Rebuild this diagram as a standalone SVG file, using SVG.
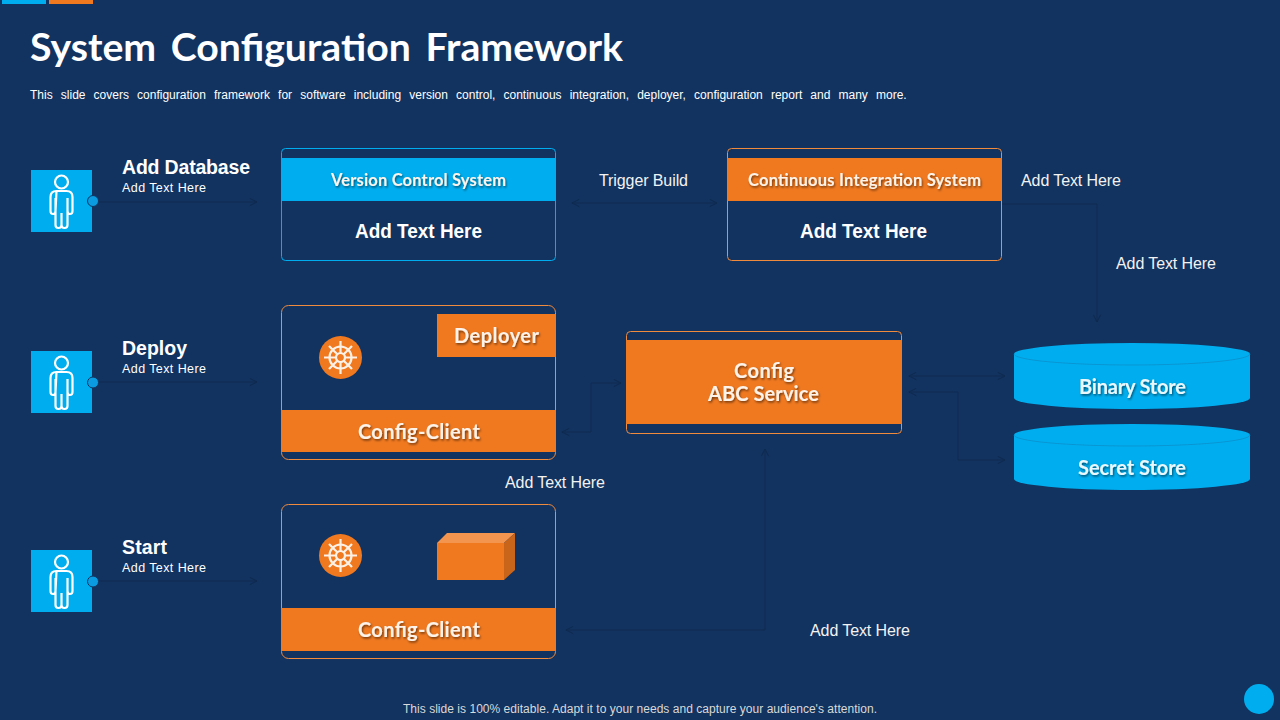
<svg xmlns="http://www.w3.org/2000/svg" width="1280" height="720" viewBox="0 0 1280 720">
<style>
text{font-family:"Liberation Sans",Arial,sans-serif;fill:#fff}
.g{font-family:Lato,"Liberation Sans",sans-serif;font-weight:700;text-anchor:middle;filter:url(#sh);fill:#fdf3ea}
.box{fill:#12335f;stroke-width:1}
.o{stroke:#f08a3c}.b{stroke:#00aeef}
.of{fill:#f07920}.bf{fill:#00aeef}
.lab{font-size:16px;fill:#f2f2f2}
.h{font-size:19.500px;font-weight:700}
.s{font-size:12.500px}
.m{font-size:20px;font-weight:700;text-anchor:middle}
.ic{fill:none;stroke:#fff;stroke-width:2.2}
.c{fill:none;stroke:#0e2a50;stroke-width:1}
.w{fill:none;stroke:#fdf0e4;stroke-width:2.2}
.rim{fill:none;stroke:#0b8fcc;stroke-width:0.800}
</style>
<defs>
<filter id="sh" x="-10%" y="-20%" width="120%" height="150%"><feDropShadow dx="1" dy="1.5" stdDeviation="0.8" flood-color="#000" flood-opacity="0.55"/></filter>
<marker id="a" viewBox="0 0 10 10" refX="9" refY="5" markerWidth="9" markerHeight="9" markerUnits="userSpaceOnUse" orient="auto-start-reverse"><path d="M1 1L9 5L1 9" fill="none" stroke="#0e2a50" stroke-width="1.1"/></marker>
<g id="person"><circle cx="0" cy="-19" r="6.500" class="ic"/><path class="ic" d="M-5-10H5Q11-10 11-4V10Q11 13 8.500 13Q6 13 6 10V-3M6 10V24Q6 27 3 27Q0 27 0 24V12V24Q0 27-3 27Q-6 27-6 24V-3M-6 10Q-6 13-8.500 13Q-11 13-11 10V-4Q-11-10-5-10Z"/></g>
<g id="wheel"><circle r="21.500" class="of"/><circle r="11" class="w"/><circle r="4.500" class="w"/><path class="w" d="M0-16.500V-4.500M0 4.500V16.500M-16.500 0H-4.500M4.500 0H16.500M-11.500-11.500L-3.200-3.200M3.200 3.200L11.500 11.500M-11.500 11.500L-3.200 3.200M3.200-3.200L11.500-11.500"/></g>
</defs>
<rect width="1280" height="720" fill="#12335f"/>
<rect x="2" y="0" width="44" height="4" class="bf"/><rect x="49" y="0" width="44" height="4" class="of"/>
<text x="30" y="61" font-size="38" font-weight="700" textLength="593" lengthAdjust="spacingAndGlyphs" word-spacing="5" style="font-family:Lato,'Liberation Sans',sans-serif">System Configuration Framework</text>
<text x="30" y="99" font-size="12" word-spacing="4.800">This slide covers configuration framework for software including version control, continuous integration, deployer, configuration report and many more.</text>

<g id="connectors">
<path class="c" d="M99 202H257" marker-end="url(#a)"/>
<path class="c" d="M99 382H257" marker-end="url(#a)"/>
<path class="c" d="M99 581H257" marker-end="url(#a)"/>
<path class="c" d="M572 203H717" marker-start="url(#a)" marker-end="url(#a)"/>
<path class="c" d="M1002 204H1097V322" marker-end="url(#a)"/>
<path class="c" d="M496 358V399" marker-end="url(#a)"/>
<path class="c" d="M476 580V604" marker-end="url(#a)"/>
<path class="c" d="M562 432H591V383H621" marker-start="url(#a)" marker-end="url(#a)"/>
<path class="c" d="M566 630H765V449" marker-start="url(#a)" marker-end="url(#a)"/>
<path class="c" d="M909 376H1005" marker-start="url(#a)" marker-end="url(#a)"/>
<path class="c" d="M909 392H958V460H1005" marker-start="url(#a)" marker-end="url(#a)"/>
</g>

<g id="actor-database"><rect x="31" y="170" width="61" height="62" class="bf"/><use href="#person" x="61.500" y="201"/><circle cx="93" cy="201" r="5.500" fill="#0a9be0" stroke="#12335f"/><text x="122" y="174" class="h" textLength="128">Add Database</text><text x="122" y="192" class="s" textLength="84">Add Text Here</text></g>
<g id="actor-deploy"><rect x="31" y="351" width="61" height="62" class="bf"/><use href="#person" x="61.500" y="382"/><circle cx="93" cy="382.500" r="5.500" fill="#0a9be0" stroke="#12335f"/><text x="122" y="355" class="h" textLength="65">Deploy</text><text x="122" y="373" class="s" textLength="84">Add Text Here</text></g>
<g id="actor-start"><rect x="31" y="550" width="61" height="62" class="bf"/><use href="#person" x="61.500" y="581"/><circle cx="93" cy="581.500" r="5.500" fill="#0a9be0" stroke="#12335f"/><text x="122" y="554" class="h" textLength="45">Start</text><text x="122" y="572" class="s" textLength="84">Add Text Here</text></g>

<g id="vcs"><rect x="281.500" y="148.500" width="274" height="112" rx="4" class="box b"/><rect x="281" y="158" width="275" height="43" class="bf"/><text x="418.500" y="186" font-size="16.500" class="g" textLength="175">Version Control System</text><text x="418.500" y="238" class="m" textLength="127" lengthAdjust="spacingAndGlyphs">Add Text Here</text></g>
<g id="cis"><rect x="727.500" y="148.500" width="274" height="112" rx="4" class="box o"/><rect x="727" y="158" width="275" height="43" class="of"/><text x="864.500" y="186" font-size="16.500" class="g" textLength="233">Continuous Integration System</text><text x="863.500" y="238" class="m" textLength="127" lengthAdjust="spacingAndGlyphs">Add Text Here</text></g>

<g id="deploy-box"><rect x="281.500" y="305.500" width="274" height="154" rx="7" class="box o"/><rect x="437" y="314" width="119" height="43" class="of"/><text x="496.500" y="343" font-size="20" class="g" textLength="85">Deployer</text><use href="#wheel" x="340.500" y="357.500"/><rect x="281" y="410" width="275" height="42" class="of"/><text x="419" y="439" font-size="20" class="g" textLength="122">Config-Client</text></g>
<g id="start-box"><rect x="281.500" y="504.500" width="274" height="154" rx="7" class="box o"/><use href="#wheel" x="340.500" y="555.500"/><path d="M437 543L447 533H515L504 543Z" fill="#f4954f"/><path d="M504 543L515 533V570L504 580Z" fill="#c9651a"/><rect x="437" y="543" width="67" height="37" class="of"/><rect x="281" y="608" width="275" height="43" class="of"/><text x="419" y="637" font-size="20" class="g" textLength="122">Config-Client</text></g>
<g id="config-service"><rect x="626.500" y="331.500" width="275" height="102" rx="4" class="box o"/><rect x="626" y="340" width="276" height="84" class="of"/><text x="764" y="378" font-size="20" class="g" textLength="60">Config</text><text x="763.500" y="401" font-size="20" class="g" textLength="111">ABC Service</text></g>

<g id="binary-store"><path d="M1014 354V398A118 11 0 0 0 1250 398V354A118 11 0 0 0 1014 354Z" class="bf"/><path d="M1014 354A118 11 0 0 0 1250 354" class="rim"/><text x="1132.500" y="394" font-size="20" class="g" style="fill:#eaf8fe" textLength="107">Binary Store</text></g>
<g id="secret-store"><path d="M1014 435V479A118 11 0 0 0 1250 479V435A118 11 0 0 0 1014 435Z" class="bf"/><path d="M1014 435A118 11 0 0 0 1250 435" class="rim"/><text x="1132" y="475" font-size="20" class="g" style="fill:#eaf8fe" textLength="108">Secret Store</text></g>

<text x="599" y="186" class="lab" textLength="89">Trigger Build</text>
<text x="1021" y="186" class="lab" textLength="100">Add Text Here</text>
<text x="1116" y="269" class="lab" textLength="100">Add Text Here</text>
<text x="505" y="488" class="lab" textLength="100">Add Text Here</text>
<text x="810" y="636" class="lab" textLength="100">Add Text Here</text>
<text x="403" y="713" font-size="12" textLength="474" style="fill:#d9d9d9">This slide is 100% editable. Adapt it to your needs and capture your audience's attention.</text>
<circle cx="1259" cy="699" r="15" class="bf"/>
</svg>
